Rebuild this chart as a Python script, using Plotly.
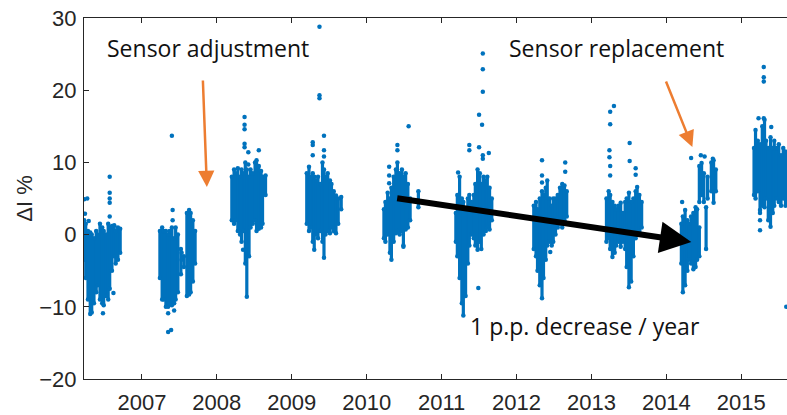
import plotly.graph_objects as go

# ---- data: each column = (decimal year, lowest, highest) ----
x2006 = [2006.23, 2006.25, 2006.28, 2006.31, 2006.33, 2006.36, 2006.39, 2006.41, 2006.44, 2006.47,
         2006.49, 2006.52, 2006.55, 2006.57, 2006.60, 2006.63, 2006.65, 2006.68, 2006.71]
lo2006 = [-3.5, -6.0, -9.0, -11.0, -10.8, -9.5, -8.0, -7.0, -9.0, -9.5,
          -9.8, -8.5, -9.0, -7.5, -5.0, -3.0, -4.0, -3.5, -2.5]
hi2006 = [2.0, 1.5, 0.5, 0.3, 0.0, -0.5, 0.5, 0.0, 1.5, 1.0,
          0.5, 0.0, 1.5, 1.0, 1.2, 1.3, 0.5, 1.0, 0.8]

x2007 = [2007.24, 2007.27, 2007.29, 2007.32, 2007.35, 2007.37, 2007.40, 2007.43, 2007.45,
         2007.48, 2007.52, 2007.56, 2007.60, 2007.63, 2007.65, 2007.68, 2007.71]
lo2007 = [-6.0, -9.0, -9.0, -10.0, -10.0, -9.5, -9.8, -9.5, -9.0,
          -8.0, -5.5, -4.5, -8.5, -8.3, -8.0, -6.5, -4.0]
hi2007 = [0.5, 1.0, 0.5, 0.5, 0.0, 0.5, 1.0, -0.5, 1.0,
          0.0, -2.0, -3.0, 3.0, 3.4, 3.0, 2.0, 0.5]

x2008 = [2008.20, 2008.23, 2008.25, 2008.28, 2008.31, 2008.33, 2008.36, 2008.38, 2008.40,
         2008.43, 2008.45, 2008.48, 2008.51, 2008.53, 2008.56, 2008.59, 2008.61, 2008.65]
lo2008 = [2.0, 1.5, 2.0, 0.5, 0.0, -1.0, 0.5, -4.0, -8.6,
          -3.0, 1.0, 1.5, 2.0, 0.5, 0.8, 1.0, 1.5, 5.5]
hi2008 = [8.0, 9.0, 8.5, 9.2, 8.0, 9.0, 8.5, 10.0, 9.0,
          8.0, 9.0, 8.5, 10.0, 10.3, 9.5, 8.8, 8.0, 8.2]

x2009 = [2009.20, 2009.23, 2009.25, 2009.28, 2009.30, 2009.33, 2009.35, 2009.38, 2009.41,
         2009.43, 2009.45, 2009.48, 2009.51, 2009.53, 2009.56, 2009.59, 2009.62, 2009.66]
lo2009 = [1.5, 0.5, 1.0, -1.0, -2.1, 0.0, -0.5, 0.5, -1.0,
          -3.2, 0.0, 0.5, 0.2, 1.0, 0.5, 0.2, 1.5, 3.5]
hi2009 = [8.5, 9.4, 8.0, 8.5, 8.0, 7.5, 8.0, 7.0, 10.0,
          9.0, 8.0, 8.5, 7.5, 7.0, 6.0, 5.4, 5.0, 5.2]

x2010 = [2010.23, 2010.25, 2010.28, 2010.31, 2010.33, 2010.36, 2010.39, 2010.41,
         2010.44, 2010.47, 2010.49, 2010.52, 2010.55, 2010.58, 2010.69]
lo2010 = [-0.5, -1.0, 0.0, -2.5, -3.5, -1.0, 0.2, 0.5, 0.0, 0.5, -1.5, 0.7, 1.0, 2.0, 3.8]
hi2010 = [3.5, 4.5, 5.8, 5.0, 6.5, 8.0, 9.0, 10.0, 8.5, 9.0, 8.0, 8.5, 7.0, 5.0, 6.0]

x2011 = [2011.19, 2011.21, 2011.24, 2011.27, 2011.29, 2011.32, 2011.35, 2011.37, 2011.40, 2011.43,
         2011.45, 2011.48, 2011.51, 2011.53, 2011.56, 2011.59, 2011.61, 2011.64, 2011.67]
lo2011 = [-1.0, -3.0, -6.0, -9.5, -11.2, -8.5, -4.0, -1.5, 0.0, -0.5,
          -1.5, -2.1, -1.0, -2.0, 0.0, 0.5, 1.0, 0.7, 2.0]
hi2011 = [3.0, 5.5, 8.0, 5.0, 4.5, 3.5, 5.0, 5.5, 4.5, 5.5,
          7.0, 9.0, 8.5, 7.0, 8.0, 7.5, 8.0, 6.5, 5.0]

x2012 = [2012.23, 2012.26, 2012.28, 2012.31, 2012.34, 2012.36, 2012.39, 2012.41, 2012.44,
         2012.47, 2012.49, 2012.52, 2012.55, 2012.58, 2012.61, 2012.64, 2012.67]
lo2012 = [-2.0, -3.0, -5.0, -7.0, -8.8, -6.0, -3.5, -1.5, -1.0,
          -1.5, -1.0, 0.0, 1.0, 1.5, 1.0, 2.0, 2.5]
hi2012 = [4.0, 4.5, 3.5, 5.0, 6.0, 5.5, 6.5, 7.5, 5.0,
          4.0, 5.0, 5.0, 5.5, 6.5, 7.0, 6.8, 6.0]

x2013 = [2013.20, 2013.23, 2013.25, 2013.28, 2013.31, 2013.33, 2013.36, 2013.39, 2013.42,
         2013.45, 2013.47, 2013.50, 2013.53, 2013.56, 2013.59, 2013.61, 2013.64, 2013.67]
lo2013 = [-1.0, -0.5, -2.0, -3.1, -2.5, -1.5, -1.0, -1.7, -1.0,
          -2.0, -4.5, -7.3, -6.5, -3.0, -0.5, 0.0, 0.5, 1.0]
hi2013 = [5.0, 6.0, 5.5, 4.5, 4.0, 3.5, 4.0, 4.4, 3.0,
          4.5, 5.0, 5.8, 4.5, 5.0, 6.0, 6.6, 5.5, 4.5]

x2014 = [2014.20, 2014.22, 2014.25, 2014.28, 2014.30, 2014.33, 2014.36, 2014.39, 2014.41,
         2014.44, 2014.44, 2014.47, 2014.50, 2014.53, 2014.55, 2014.60, 2014.63, 2014.66]
lo2014 = [-4.0, -8.0, -7.0, -5.0, -3.5, -4.0, -4.8, -4.5, -3.5,
          4.5, -3.0, 5.5, 4.5, -2.0, 5.0, 6.0, 4.4, 6.0]
hi2014 = [1.5, 2.5, 3.4, 2.0, 1.5, 2.5, 3.0, 3.8, 3.5,
          9.5, 1.0, 9.9, 8.5, 3.8, 8.0, 10.0, 10.3, 9.0]

x2015 = [2015.17, 2015.19, 2015.22, 2015.25, 2015.28, 2015.31, 2015.33, 2015.36,
         2015.39, 2015.42, 2015.44, 2015.47, 2015.50, 2015.53, 2015.56, 2015.59]
lo2015 = [5.5, 5.0, 6.0, 3.0, 4.0, 3.8, 5.0, 2.0, 1.1, 3.0, 4.0, 5.0, 4.5, 4.0, 5.0, 4.0]
hi2015 = [12.0, 14.5, 13.0, 12.5, 15.0, 15.9, 13.0, 12.0, 13.5, 12.0, 13.0, 12.0, 12.5, 11.0, 12.0, 11.5]

# isolated points
out_x = [2006.23, 2006.24, 2006.27, 2006.29, 2006.48, 2006.57, 2006.57, 2006.57, 2006.57, 2006.57, 2006.62,
         2007.40, 2007.35, 2007.35, 2007.39, 2007.43, 2007.41, 2007.41, 2007.53, 2007.53,
         2008.37, 2008.37, 2008.37, 2008.37, 2008.37, 2008.42, 2008.42, 2008.35, 2008.56,
         2009.28, 2009.28, 2009.28, 2009.37, 2009.37, 2009.37, 2009.43, 2009.43, 2009.43,
         2010.30, 2010.30, 2010.30, 2010.41, 2010.41, 2010.49, 2010.56,
         2011.22, 2011.37, 2011.37, 2011.55, 2011.55, 2011.55, 2011.50, 2011.54, 2011.50, 2011.49,
         2011.55, 2011.55, 2011.63,
         2012.34, 2012.34, 2012.34, 2012.45, 2012.65, 2012.65,
         2013.25, 2013.30, 2013.25, 2013.24, 2013.24, 2013.25, 2013.25, 2013.51, 2013.51, 2013.59, 2013.59,
         2014.21, 2014.33, 2014.46, 2014.51, 2014.62,
         2015.30, 2015.30, 2015.30, 2015.23, 2015.30, 2015.40, 2015.25, 2015.25, 2015.25, 2015.60]
out_y = [4.9, 2.9, 5.0, 1.9, -10.9, 8.0, 5.8, 5.0, 4.4, 2.5, -8.1,
         13.7, -10.9, -13.5, -13.2, -10.5, 3.4, 2.0, -2.5, -3.5,
         16.3, 15.2, 14.6, 12.6, 12.1, 11.4, 9.7, -2.1, 11.7,
         12.8, 12.4, 11.0, 28.8, 19.3, 18.9, 13.7, 11.7, 10.8,
         9.4, 8.2, 7.1, 12.4, 11.7, -1.7, 15.0,
         8.6, 12.4, 11.7, 25.1, 22.9, 19.8, 16.6, 15.2, 12.1, -7.4,
         11.0, 10.5, 11.3,
         10.3, 8.2, 7.2, -2.4, 10.0, 8.7,
         17.0, 17.8, 15.3, 11.7, 10.7, 9.5, 8.2, 12.7, 10.2, 9.2, 8.3,
         4.5, 10.6, 11.0, 10.8, 10.5,
         23.2, 21.8, 21.2, 16.1, 16.1, 14.9, 3.4, 2.0, 0.6, -10.0]

year_ticks = [2007, 2008, 2009, 2010, 2011, 2012, 2013, 2014, 2015]
y_ticks = [-20, -10, 0, 10, 20, 30]

BLUE = "#0072BD"
ORANGE = "#ED7D31"

cols_x = x2006 + x2007 + x2008 + x2009 + x2010 + x2011 + x2012 + x2013 + x2014 + x2015
cols_lo = lo2006 + lo2007 + lo2008 + lo2009 + lo2010 + lo2011 + lo2012 + lo2013 + lo2014 + lo2015
cols_hi = hi2006 + hi2007 + hi2008 + hi2009 + hi2010 + hi2011 + hi2012 + hi2013 + hi2014 + hi2015

seg_x, seg_y = [], []
for xv, lo, hi in zip(cols_x, cols_lo, cols_hi):
    seg_x += [xv, xv, None]
    seg_y += [lo, hi, None]

fig = go.Figure()
fig.add_trace(go.Scatter(x=seg_x, y=seg_y, mode="lines",
                         line=dict(color=BLUE, width=3.2), hoverinfo="skip", showlegend=False))
fig.add_trace(go.Scatter(x=cols_x + cols_x, y=cols_lo + cols_hi, mode="markers",
                         marker=dict(color=BLUE, size=4.5), showlegend=False))
fig.add_trace(go.Scatter(x=out_x, y=out_y, mode="markers",
                         marker=dict(color=BLUE, size=4.5), showlegend=False))

TXT = dict(family="Open Sans, Lato, sans-serif", size=23, color="#111111")
AXF = dict(family="Liberation Sans, Arial, sans-serif", size=22, color="#262626")

annotations = [
    dict(x=2007.88, y=25.8, xref="x", yref="y", text="Sensor adjustment", showarrow=False, font=TXT),
    dict(x=2013.33, y=25.8, xref="x", yref="y", text="Sensor replacement", showarrow=False, font=TXT),
    dict(x=2012.92, y=-12.6, xref="x", yref="y", text="1 p.p. decrease / year", showarrow=False, font=TXT),
    dict(x=2007.867, y=6.6, ax=2007.813, ay=21.55, xref="x", yref="y", axref="x", ayref="y",
         text="", showarrow=True, arrowhead=2, arrowsize=1.3, arrowwidth=2.5, arrowcolor=ORANGE, standoff=0),
    dict(x=2014.347, y=12.13, ax=2013.987, ay=21.41, xref="x", yref="y", axref="x", ayref="y",
         text="", showarrow=True, arrowhead=2, arrowsize=1.3, arrowwidth=2.5, arrowcolor=ORANGE, standoff=0),
    dict(x=2014.333, y=-1.02, ax=2010.387, ay=5.07, xref="x", yref="y", axref="x", ayref="y",
         text="", showarrow=True, arrowhead=2, arrowsize=1.05, arrowwidth=6, arrowcolor="black", standoff=0),
]

fig.update_layout(
    width=787, height=415,
    margin=dict(l=84, r=0, t=18, b=36),
    paper_bgcolor="white", plot_bgcolor="white",
    annotations=annotations,
    xaxis=dict(range=[2006.227, 2015.61], tickvals=year_ticks, ticktext=[str(t) for t in year_ticks],
               ticks="inside", ticklen=5, tickcolor="#262626", showline=True, linecolor="#262626",
               linewidth=1, mirror="ticks", showgrid=False, zeroline=False, tickfont=AXF,
               ticklabelstandoff=4),
    yaxis=dict(range=[-20, 30], tickvals=y_ticks, ticks="inside", ticklen=5, tickcolor="#262626",
               showline=True, linecolor="#262626", linewidth=1, showgrid=False, zeroline=False,
               tickfont=AXF, ticklabelstandoff=2,
               title=dict(text="ΔI %", standoff=0, font=AXF)),
)

fig.write_html("out.html")
